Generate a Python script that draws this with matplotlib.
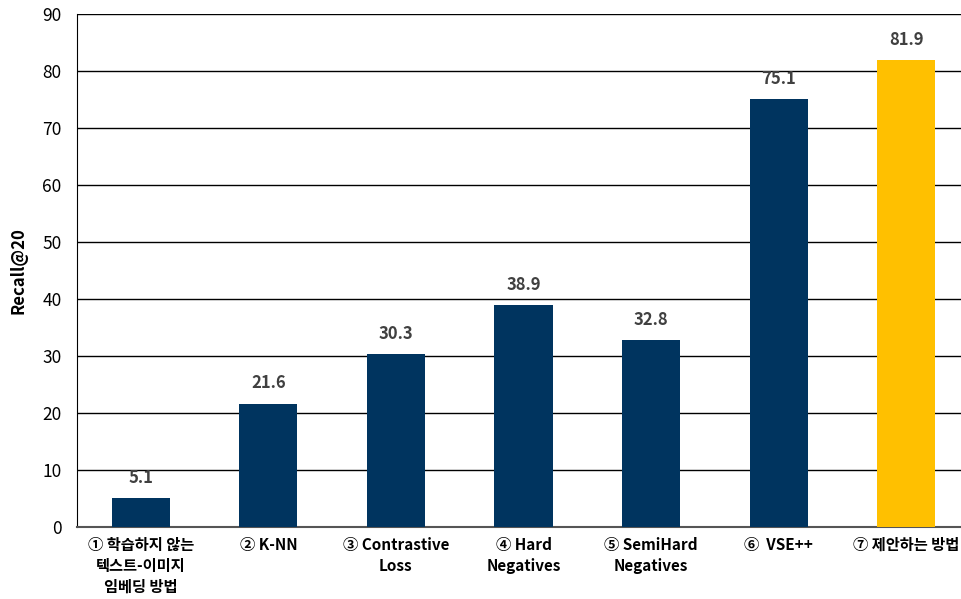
import matplotlib.pyplot as plt

plt.rcParams['font.family'] = ['Noto Sans CJK KR', 'DejaVu Sans']

# 데이터
labels = ['① 학습하지 않는\n텍스트-이미지\n임베딩 방법', '② K-NN', '③ Contrastive\nLoss',
          '④ Hard\nNegatives', '⑤ SemiHard\nNegatives', '⑥  VSE++', '⑦ 제안하는 방법']
values = [5.1, 21.6, 30.3, 38.9, 32.8, 75.1, 81.9]
colors = ['#00345F'] * 6 + ['#FFC000']
yticks = [0, 10, 20, 30, 40, 50, 60, 70, 80, 90]

fig = plt.figure(figsize=(9.62, 5.99), dpi=100)
ax = fig.add_axes([77 / 962, 1 - 527 / 599, 893 / 962, 513 / 599])

x = range(len(values))
bars = ax.bar(x, values, width=0.455, color=colors, zorder=3)
for i, v in enumerate(values):
    ax.text(i, v + 2.0, f'{v:.1f}', ha='center', va='bottom', fontsize=12,
            color='#404040', fontweight='bold')

ax.set_xlim(-0.5, 6.5)
ax.set_ylim(0, 90)
ax.set_yticks(yticks)
ax.yaxis.grid(True, color='black', linewidth=1.0, zorder=0)
ax.set_axisbelow(True)
ax.tick_params(axis='y', length=0, labelsize=12.5, pad=11)
ax.tick_params(axis='x', length=0, pad=7)
ax.set_xticks(list(x))
ax.set_xticklabels(labels, fontsize=11, fontweight='bold', linespacing=1.38, va='top')
for s in ['top', 'right']:
    ax.spines[s].set_visible(False)
ax.spines['left'].set_color('black')
ax.spines['bottom'].set_color('#555555')
ax.spines['bottom'].set_linewidth(1.5)
ax.set_ylabel('Recall@20', fontsize=12, fontweight='bold', labelpad=11)

fig.savefig('out.png', dpi=100)
